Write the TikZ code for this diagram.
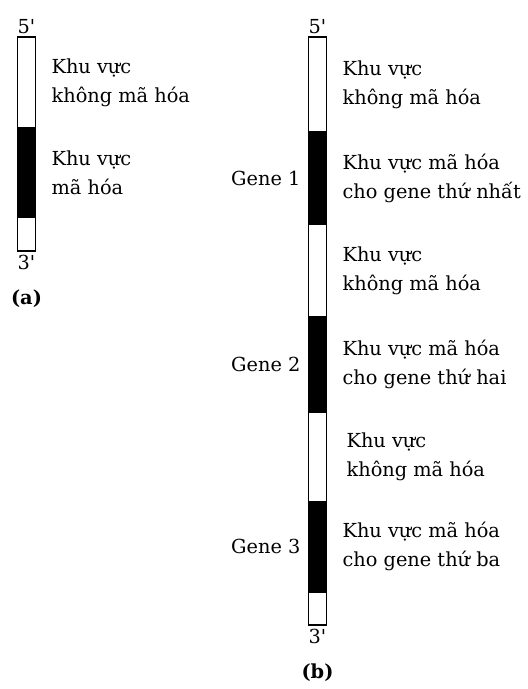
\documentclass[tikz,border=0pt]{standalone}
\usepackage{fontspec}
\setmainfont{DejaVu Serif}
\usetikzlibrary{positioning}

\begin{document}
\begin{tikzpicture}[
    x=0.02cm, y=-0.02cm,
    every node/.style={font=\fontsize{11}{16.5}\selectfont, inner sep=1pt},
    seg/.style={draw, line width=1.1pt, minimum width=0.36cm, inner sep=0pt, outer sep=0pt, anchor=north},
    noncoding/.style={seg, fill=white},
    coding/.style={seg, fill=black},
    note/.style={align=left, anchor=west},
    caption/.style={font=\fontsize{11}{16.5}\selectfont\bfseries}
]
\useasboundingbox (0,0) rectangle (527,689);
% (a) one gene
\node (a1) [noncoding, minimum height=1.82cm] at (26.5,37) {};
\node (a2) [coding, minimum height=1.78cm, below=0pt of a1] {};
\node (a3) [noncoding, minimum height=0.68cm, below=0pt of a2] {};
\node (a5) [above=0.02cm of a1] {5\textquotesingle};
\node (a3p) [below=0.05cm of a3] {3\textquotesingle};
\node (la1) [note, right=0.28cm of a1] {Khu vực\\không mã hóa};
\node (la2) [note, right=0.28cm of a2] {Khu vực\\mã hóa};
\node (capa) [caption, below=0.3cm of a3p] {(a)};
% (b) three genes
\node (b1) [noncoding, minimum height=1.9cm] at (317.5,37) {};
\node (b2) [coding, minimum height=1.84cm, below=0pt of b1] {};
\node (b3) [noncoding, minimum height=1.86cm, below=0pt of b2] {};
\node (b4) [coding, minimum height=1.9cm, below=0pt of b3] {};
\node (b5) [noncoding, minimum height=1.8cm, below=0pt of b4] {};
\node (b6) [coding, minimum height=1.8cm, below=0pt of b5] {};
\node (b7) [noncoding, minimum height=0.66cm, below=0pt of b6] {};
\node (b5p) [above=0.02cm of b1] {5\textquotesingle};
\node (b3p) [below=0.05cm of b7] {3\textquotesingle};
\node (lb1) [note, right=0.28cm of b1] {Khu vực\\không mã hóa};
\node (lb2) [note, right=0.28cm of b2] {Khu vực mã hóa\\cho gene thứ nhất};
\node (lb3) [note, right=0.28cm of b3] {Khu vực\\không mã hóa};
\node (lb4) [note, right=0.28cm of b4] {Khu vực mã hóa\\cho gene thứ hai};
\node (lb5) [note, right=0.36cm of b5] {Khu vực\\không mã hóa};
\node (lb6) [note, right=0.28cm of b6] {Khu vực mã hóa\\cho gene thứ ba};
\node (g1) [left=0.12cm of b2] {Gene 1};
\node (g2) [left=0.12cm of b4] {Gene 2};
\node (g3) [left=0.12cm of b6] {Gene 3};
\node (capb) [caption, below=0.3cm of b3p] {(b)};
\end{tikzpicture}
\end{document}
